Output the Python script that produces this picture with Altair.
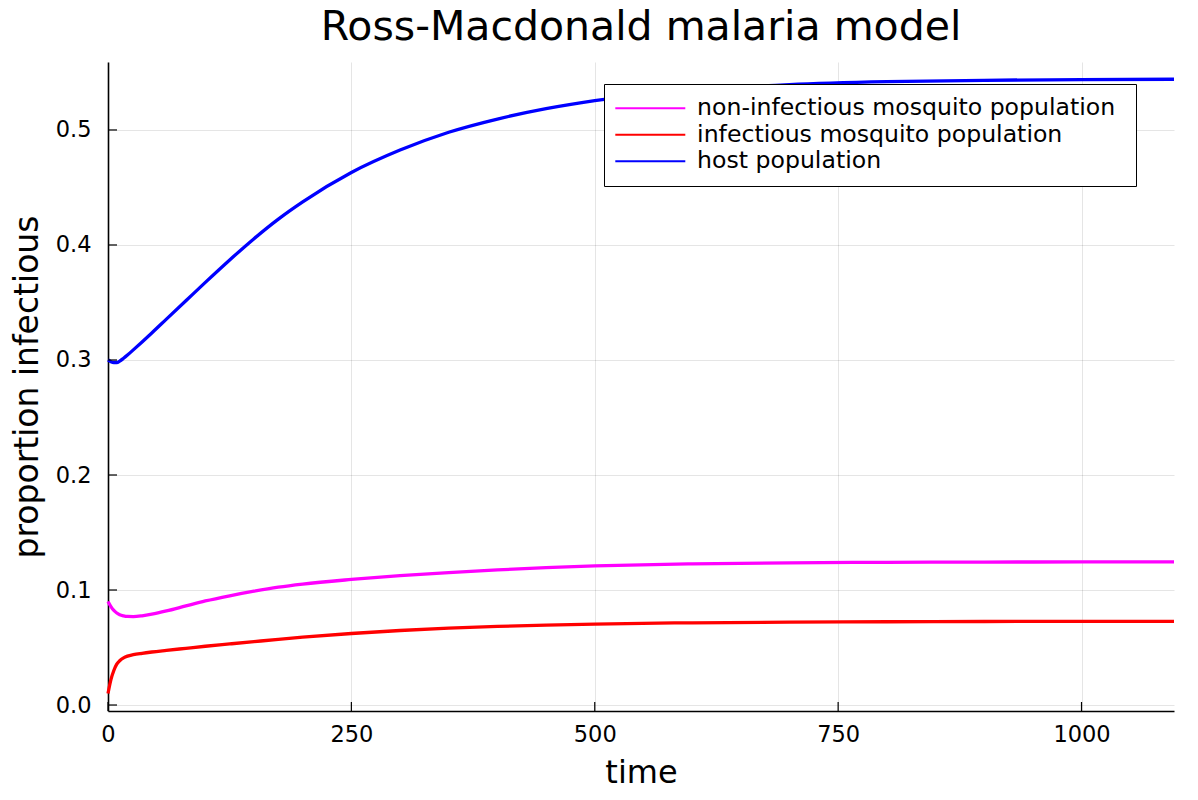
import altair as alt
import pandas as pd

# ---- data ----
times = [0, 3, 6, 9, 12, 16, 20, 26, 35, 45, 60, 80, 100, 125, 150, 175, 200,
         250, 300, 350, 400, 450, 500, 600, 700, 800, 900, 1000, 1095]

non_infectious = [0.0900, 0.0855, 0.0822, 0.0800, 0.0785, 0.0775, 0.0770, 0.0769,
                  0.0776, 0.0790, 0.0818, 0.0862, 0.0905, 0.0950, 0.0990, 0.1025,
                  0.1052, 0.1092, 0.1125, 0.1152, 0.1175, 0.1194, 0.1209, 0.1227,
                  0.1236, 0.1241, 0.1243, 0.1244, 0.1245]

infectious = [0.0100, 0.0220, 0.0300, 0.0355, 0.0385, 0.0410, 0.0425, 0.0438,
              0.0450, 0.0461, 0.0475, 0.0493, 0.0511, 0.0531, 0.0551, 0.0571,
              0.0590, 0.0622, 0.0648, 0.0668, 0.0683, 0.0695, 0.0704, 0.0715,
              0.0721, 0.0724, 0.0726, 0.0727, 0.0727]

host = [0.3000, 0.2985, 0.2978, 0.2978, 0.2990, 0.3015, 0.3043, 0.3088,
        0.3157, 0.3235, 0.3355, 0.3515, 0.3675, 0.3870, 0.4055, 0.4225,
        0.4375, 0.4630, 0.4825, 0.4980, 0.5095, 0.5185, 0.5255, 0.5345,
        0.5395, 0.5420, 0.5432, 0.5438, 0.5441]

series_names = ["non-infectious mosquito population",
                "infectious mosquito population",
                "host population"]
series_colors = ["#ff00ff", "#ff0000", "#0000ff"]

x_ticks = [0, 250, 500, 750, 1000]
y_ticks = [0.0, 0.1, 0.2, 0.3, 0.4, 0.5]

x_domain = [0, 1095]
y_domain = [-0.0052, 0.5591]

# ---- build tables ----
rows = []
for name, vals in zip(series_names, [non_infectious, infectious, host]):
    for t, v in zip(times, vals):
        rows.append({"time": t, "value": v, "series": name})
df = pd.DataFrame(rows)
xt = pd.DataFrame({"time": x_ticks})
yt = pd.DataFrame({"value": y_ticks})

FONT = "DejaVu Sans"
W, H = 1066, 649

xscale = alt.Scale(domain=x_domain, nice=False, zero=False)
yscale = alt.Scale(domain=y_domain, nice=False, zero=False)

xaxis = alt.Axis(title="time", values=x_ticks, format="d",
                 grid=True, ticks=False, tickSize=0, labelFlush=False,
                 labelPadding=12, titlePadding=12,
                 labelFontSize=22.5, titleFontSize=32)
yaxis = alt.Axis(title="proportion infectious", values=y_ticks,
                 format=".1f", grid=True, ticks=False, tickSize=0,
                 labelFlush=False,
                 labelPadding=17, titlePadding=11,
                 labelFontSize=22.5, titleFontSize=33)

lines = alt.Chart(df).mark_line(strokeWidth=3.3, interpolate="monotone").encode(
    x=alt.X("time:Q", scale=xscale, axis=xaxis),
    y=alt.Y("value:Q", scale=yscale, axis=yaxis),
    color=alt.Color("series:N",
                    scale=alt.Scale(domain=series_names, range=series_colors),
                    sort=series_names,
                    legend=alt.Legend(title=None, orient="none",
                                      legendX=496, legendY=22,
                                      symbolType="M-5,0H5", symbolSize=196,
                                      symbolOffset=22,
                                      symbolStrokeWidth=2, labelFontSize=23.6,
                                      labelFont=FONT, labelOffset=35,
                                      labelExpr="datum.label + '\u00a0\u200b'",
                                      labelLimit=1000, rowPadding=1.5,
                                      padding=12.5, strokeColor="#000000",
                                      fillColor="#ffffff", cornerRadius=0)),
    order=alt.Order("time:Q"),
)

xticks = alt.Chart(xt).mark_rule(color="#000000", strokeWidth=1.2).encode(
    x=alt.X("time:Q", scale=xscale, axis=xaxis),
    y=alt.value(H), y2=alt.value(H - 9),
)
yticks = alt.Chart(yt).mark_rule(color="#000000", strokeWidth=1.2).encode(
    y=alt.Y("value:Q", scale=yscale, axis=yaxis),
    x=alt.value(0), x2=alt.value(9),
)

chart = alt.layer(lines, xticks, yticks).properties(
    width=W, height=H,
    title=alt.TitleParams("Ross-Macdonald malaria model", fontSize=41,
                          font=FONT, fontWeight="normal", anchor="middle",
                          color="#000000", offset=13),
    autosize=alt.AutoSizeParams(type="none"),
    padding={"left": 100, "top": 54, "right": 16, "bottom": 80},
).configure_view(stroke=None).configure_axis(
    labelFont=FONT, titleFont=FONT, titleFontWeight="normal",
    labelColor="#000000", titleColor="#000000",
    domainColor="#000000", domainWidth=1.6,
    gridColor="#000000", gridOpacity=0.1, gridWidth=1,
)

chart.save("out.html", embed_options={"renderer": "svg", "actions": False})
